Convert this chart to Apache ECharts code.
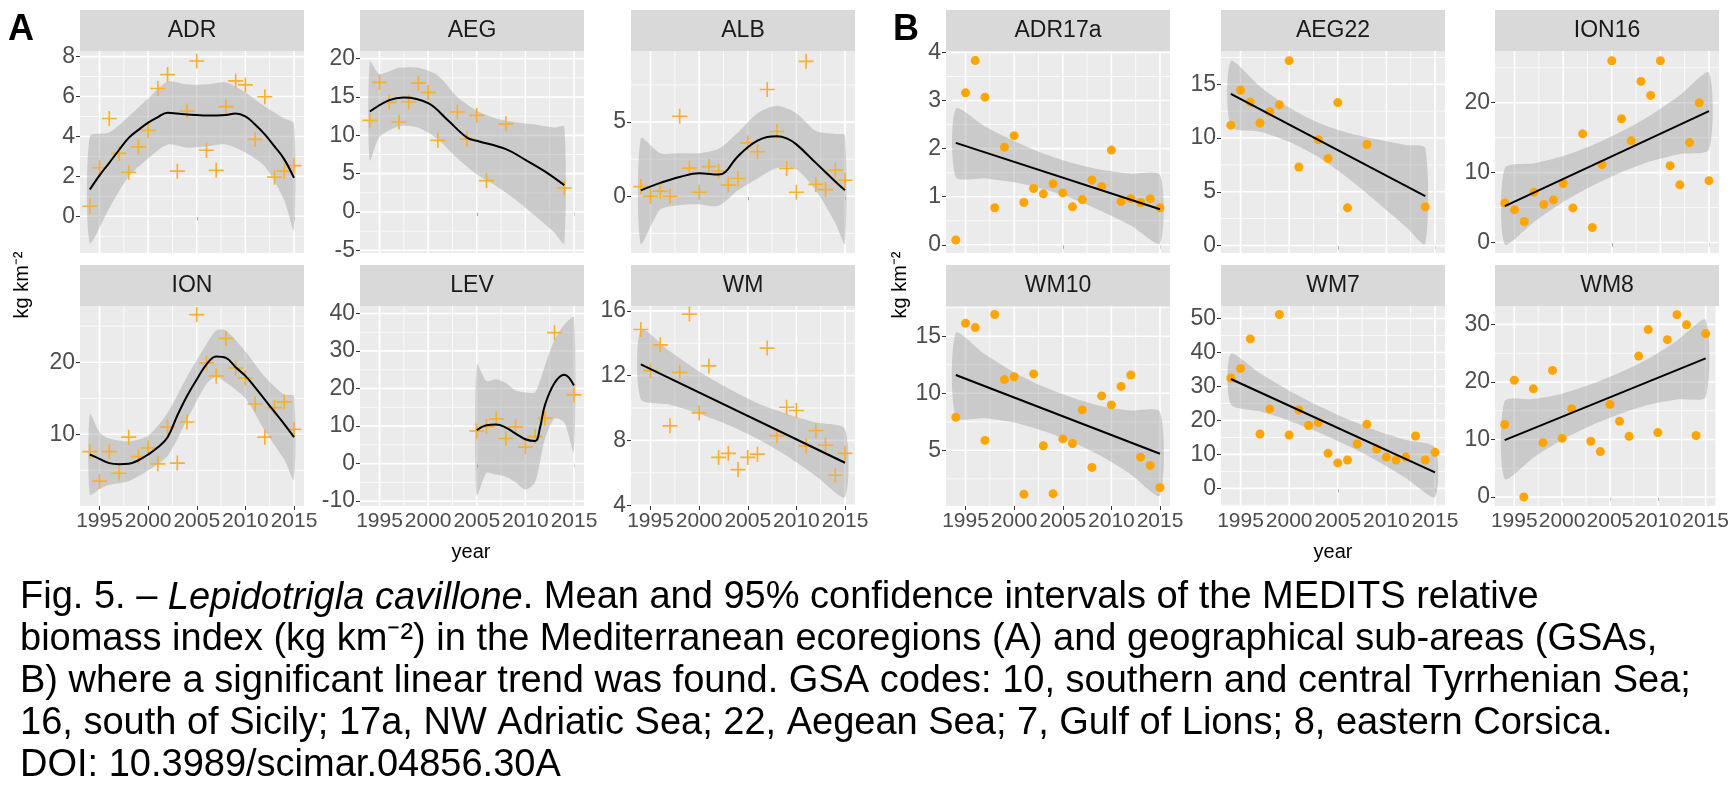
<!DOCTYPE html>
<html>
<head>
<meta charset="utf-8">
<title>Lepidotrigla cavillone biomass</title>
<script src="https://cdn.jsdelivr.net/npm/echarts@6/dist/echarts.min.js"></script>
<style>
body{margin:0;background:#fff;}
#main{width:1732px;height:806px;}
</style>
</head>
<body>
<div id="main"></div>
<script>
// ---- data ----
var allYears = [1994,1995,1996,1997,1998,1999,2000,2001,2002,2003,2004,2005,2006,2007,2008,2009,2010,2011,2012,2013,2014,2015];
var aegYears = [1994,1995,1996,1997,1998,1999,2000,2001,2003,2004,2005,2006,2008,2014];
var levYears = [2005,2006,2007,2008,2009,2010,2011,2012,2013,2015];
var wm8Years = [1994,1995,1996,1997,1998,1999,2000,2001,2003,2004,2005,2006,2007,2008,2009,2010,2011,2012,2013,2014,2015];
var xMajor = [1995,2000,2005,2010,2015];
var xMinor = [1997.5,2002.5,2007.5,2012.5];

// panel A : ecoregions (loess / linear fits)
var ADR_pts = [0.5,2.43,4.9,3.15,2.2,3.48,4.3,6.4,7.1,2.26,5.27,7.78,3.31,2.3,5.49,6.78,6.58,3.85,5.99,1.96,2.26,2.54];
var ADR_fit = [[1994,1.34],[1995,2.05],[1996,2.68],[1997,3.32],[1998,3.93],[1999,4.33],[2000,4.69],[2001,4.97],[2002,5.19],[2003,5.15],[2004,5.1],[2005,5.07],[2006,5.05],[2007,5.05],[2008,5.07],[2009,5.15],[2010,5.0],[2011,4.6],[2012,4.1],[2013,3.5],[2014,2.85],[2015,1.92]];
var ADR_band = [[1994,-1.34,4.0],[1996,0.4,4.2],[1998,2.0,5.0],[2000,2.9,5.9],[2002,3.6,6.75],[2004,3.45,6.6],[2006,3.5,6.6],[2008,3.6,6.7],[2010,3.2,6.2],[2012,2.5,5.5],[2014,0.8,4.9],[2015,-0.7,4.65]];

var AEG_pts = [11.96,16.9,14.3,11.74,14.35,16.8,15.6,9.35,13.04,9.5,12.6,4.1,11.5,3.13];
var AEG_fit = [[1994,13.1],[1996,14.6],[1997.5,14.95],[2000,14.2],[2002,12.0],[2004,9.7],[2005,9.3],[2008,8.2],[2010,6.8],[2012,5.3],[2014,3.5]];
var AEG_band = [[1994,6.7,19.6],[1995,9.8,18.0],[1997,11.2,18.8],[1999,11.0,18.8],[2001,9.5,17.8],[2003,7.0,15.0],[2005,4.9,13.2],[2007,3.4,12.2],[2009,1.6,11.7],[2011,-0.5,11.4],[2013,-2.7,11.0],[2014,-4.1,11.1]];

var ALB_pts = [0.65,0.0,0.34,0.0,5.4,1.9,0.27,2.0,1.7,0.75,1.2,3.6,3.0,7.2,4.37,1.87,0.27,9.1,0.8,0.45,1.76,1.08];
var ALB_fit = [[1994,0.4],[1996,0.9],[1998,1.3],[2000,1.55],[2002,1.46],[2004,2.7],[2005,3.3],[2006,3.75],[2007,4.0],[2008,4.05],[2009,3.9],[2010,3.5],[2012,2.25],[2014,1.0],[2015,0.4]];
var ALB_band = [[1994,-3.2,3.9],[1996,-0.9,2.9],[1998,-0.6,2.9],[2000,-0.55,2.9],[2002,-0.65,3.2],[2004,0.4,4.3],[2006,1.2,5.6],[2008,1.9,6.1],[2010,1.8,5.6],[2012,0.4,4.4],[2014,-1.8,4.2],[2015,-3.2,4.1]];

var ION_pts = [7.6,3.5,7.6,4.6,9.6,6.9,8.1,5.9,11.0,6.0,11.7,26.6,19.9,18.1,23.3,19.2,17.8,14.2,9.6,13.7,14.5,10.7];
var ION_fit = [[1994,7.2],[1995,6.6],[1996,6.0],[1997,5.85],[1998,5.9],[1999,6.4],[2000,7.2],[2001,8.2],[2002,9.6],[2003,12.6],[2004,15.3],[2005,17.6],[2006,19.7],[2007,20.8],[2008,20.6],[2009,19.3],[2010,18.1],[2011,16.5],[2012,14.8],[2013,13.1],[2014,11.4],[2015,9.6]];
var ION_band = [[1994,1.6,12.8],[1995,2.4,10.3],[1996,3.0,9.4],[1998,3.5,9.0],[2000,5.0,9.8],[2002,7.0,13.0],[2004,12.0,18.0],[2006,17.0,22.5],[2007,18.0,24.4],[2008,17.2,24.4],[2010,15.0,21.5],[2012,10.5,18.0],[2014,6.5,15.5],[2015,3.7,15.3]];

var LEV_pts = [8.7,9.9,11.9,6.7,9.8,4.4,7.2,12.1,34.9,18.3];
var LEV_fit = [[2005,8.9],[2006,10.2],[2007,10.4],[2008,9.6],[2009,8.0],[2010,6.5],[2011,6.0],[2011.5,9.5],[2012,15.5],[2013,21.5],[2014,23.7],[2015,20.8]];
var LEV_band = [[2005,-8.5,26.5],[2006,-2.5,22.0],[2007,-3.0,22.5],[2008,-3.5,21.5],[2009,-5.0,19.5],[2010,-7.0,19.0],[2011,-5.0,19.0],[2012,6.5,26.0],[2013,12.0,33.0],[2014,11.0,37.0],[2015,3.0,39.0]];

var WM_pts = [14.85,12.3,13.9,8.9,12.2,15.8,9.7,12.6,6.95,7.2,6.2,6.95,7.15,13.7,8.3,10.05,9.85,7.65,8.6,7.7,5.85,7.2];
var WM_fit = [[1994,12.7],[2015,6.62]];
var WM_band = [[1994,10.55,14.85],[1997,10.2,13.5],[2000,9.65,12.25],[2003,8.95,11.2],[2006,8.1,10.3],[2009,7.05,9.65],[2012,5.8,9.1],[2015,4.5,8.7]];

// panel B : GSAs (linear fits)
var ADR17a_pts = [0.1,3.16,3.83,3.07,0.77,2.03,2.27,0.88,1.17,1.06,1.27,1.08,0.79,0.94,1.35,1.21,1.97,0.9,0.96,0.88,0.96,0.77];
var ADR17a_fit = [[1994,2.12],[2015,0.74]];
var ADR17a_band = [[1994,1.41,2.83],[1997,1.38,2.46],[2000,1.3,2.16],[2003,1.16,1.9],[2006,0.96,1.7],[2009,0.7,1.56],[2012,0.4,1.48],[2015,0.03,1.45]];

var AEG22_pts = [11.2,14.45,13.35,11.4,12.45,13.1,17.2,7.3,9.85,8.1,13.3,3.5,9.4,3.6];
var AEG22_fit = [[1994,14.1],[2014,4.6]];
var AEG22_band = [[1994,11.05,17.15],[1997,10.58,14.8],[2000,9.65,12.85],[2003,8.23,11.43],[2006,6.3,10.5],[2009,4.08,9.88],[2012,1.75,9.35],[2014,0.15,9.05]];

var ION16_pts = [5.65,4.7,3.0,7.2,5.45,6.1,8.45,4.95,15.55,2.15,11.15,26.0,17.7,14.55,23.05,21.05,26.0,11.0,8.25,14.3,20.0,8.85];
var ION16_fit = [[1994,5.2],[2015,18.8]];
var ION16_band = [[1994,-0.25,10.65],[1997,2.94,11.34],[2000,5.79,12.39],[2003,8.13,13.93],[2006,10.07,15.87],[2009,11.61,18.21],[2012,12.66,21.06],[2015,13.3,24.3]];

var WM10_pts = [7.9,16.13,15.76,5.87,16.9,11.2,11.45,1.16,11.7,5.4,1.2,6.0,5.6,8.55,3.5,9.77,8.98,10.6,11.6,4.4,3.66,1.74];
var WM10_fit = [[1994,11.6],[2015,4.7]];
var WM10_band = [[1994,7.9,15.3],[1997,7.81,13.41],[2000,7.43,11.83],[2003,6.69,10.59],[2006,5.71,9.61],[2009,4.47,8.87],[2012,2.89,8.49],[2015,1.05,8.35]];

var WM7_pts = [32.5,35.3,44.0,16.0,23.4,51.2,15.7,23.1,18.5,19.4,10.3,7.5,8.35,13.05,18.9,11.6,9.2,8.35,9.2,15.4,8.35,10.6];
var WM7_fit = [[1994,32.2],[2015,4.7]];
var WM7_band = [[1994,24.8,39.6],[1997,22.67,33.87],[2000,19.94,28.74],[2003,16.51,24.31],[2006,12.59,20.39],[2009,8.16,16.96],[2012,3.03,14.23],[2015,-2.6,12.0]];

var WM8_pts = [12.6,20.3,0.0,18.8,9.45,22.0,10.2,15.35,9.7,7.9,16.1,13.15,10.55,24.5,29.1,11.2,27.35,31.7,29.95,10.7,28.4];
var WM8_fit = [[1994,9.9],[2015,24.1]];
var WM8_band = [[1994,3.15,16.65],[1997,6.83,17.03],[2000,9.96,17.96],[2003,12.39,19.59],[2006,14.41,21.61],[2009,16.04,24.04],[2012,16.97,27.17],[2015,17.4,30.8]];

// y axis ranges and breaks
var yRange = {
  ADR:[-1.84,8.28], AEG:[-5.35,21.0], ALB:[-3.83,9.8], ION:[0.05,27.8], LEV:[-11.3,42], WM:[3.95,16.3],
  ADR17a:[-0.17,4.03], AEG22:[-0.7,18.1], ION16:[-1.5,27.4], WM10:[0.12,17.65], WM7:[-5.2,53.7], WM8:[-1.56,33.2]
};
var yMajor = {
  ADR:[0,2,4,6,8], AEG:[-5,0,5,10,15,20], ALB:[0,5], ION:[10,20], LEV:[-10,0,10,20,30,40], WM:[4,8,12,16],
  ADR17a:[0,1,2,3,4], AEG22:[0,5,10,15], ION16:[0,10,20], WM10:[5,10,15], WM7:[0,10,20,30,40,50], WM8:[0,10,20,30]
};
var yMinor = {
  ADR:[-1,1,3,5,7], AEG:[-2.5,2.5,7.5,12.5,17.5], ALB:[-2.5,2.5,7.5], ION:[5,15,25], LEV:[-5,5,15,25,35], WM:[6,10,14],
  ADR17a:[0.5,1.5,2.5,3.5], AEG22:[2.5,7.5,12.5,17.5], ION16:[5,15,25], WM10:[2.5,7.5,12.5,17.5], WM7:[-5,5,15,25,35,45], WM8:[5,15,25]
};

function zip(xs, ys){ return xs.map(function(x,i){ return [x, ys[i]]; }); }

var panels = [
  {name:'ADR',  group:'A', years:allYears, pts:ADR_pts,  fit:ADR_fit,  band:ADR_band,  smooth:true},
  {name:'AEG',  group:'A', years:aegYears, pts:AEG_pts,  fit:AEG_fit,  band:AEG_band,  smooth:true},
  {name:'ALB',  group:'A', years:allYears, pts:ALB_pts,  fit:ALB_fit,  band:ALB_band,  smooth:true},
  {name:'ION',  group:'A', years:allYears, pts:ION_pts,  fit:ION_fit,  band:ION_band,  smooth:true},
  {name:'LEV',  group:'A', years:levYears, pts:LEV_pts,  fit:LEV_fit,  band:LEV_band,  smooth:true},
  {name:'WM',   group:'A', years:allYears, pts:WM_pts,   fit:WM_fit,   band:WM_band,   smooth:false},
  {name:'ADR17a',group:'B', years:allYears, pts:ADR17a_pts, fit:ADR17a_fit, band:ADR17a_band, smooth:false},
  {name:'AEG22', group:'B', years:aegYears, pts:AEG22_pts,  fit:AEG22_fit,  band:AEG22_band,  smooth:false},
  {name:'ION16', group:'B', years:allYears, pts:ION16_pts,  fit:ION16_fit,  band:ION16_band,  smooth:false},
  {name:'WM10',  group:'B', years:allYears, pts:WM10_pts,   fit:WM10_fit,   band:WM10_band,   smooth:false},
  {name:'WM7',   group:'B', years:allYears, pts:WM7_pts,    fit:WM7_fit,    band:WM7_band,    smooth:false},
  {name:'WM8',   group:'B', years:wm8Years, pts:WM8_pts,    fit:WM8_fit,    band:WM8_band,    smooth:false}
];

// ---- layout ----
var colX = {A:[80,360,631], B:[946,1221,1495]};
var panelW = 224;
var rowTop = [51, 306];     // plot top
var plotH = [202, 200];
var stripH = 41;
var xMin = 1992.99, xMax = 2016.03;

var crossPath = 'path://M4.45,0h1.1v4.45h4.45v1.1h-4.45v4.45h-1.1v-4.45h-4.45v-1.1h4.45z';

var grids = [], xAxes = [], yAxes = [], series = [], graphics = [];
var labelFont = 'Liberation Sans, Arial, sans-serif';

panels.forEach(function(p, k){
  var col = k % 3, row = Math.floor(k/3) % 2;
  var left = colX[p.group][col], top = rowTop[row];
  grids.push({left:left, top:top, width:panelW, height:plotH[row], show:true,
              backgroundColor:'#EBEBEB', borderWidth:0, containLabel:false});
  var bottomRow = row === 1;
  xAxes.push({type:'value', gridIndex:k, min:xMin, max:xMax,
    axisLine:{show:false}, splitLine:{show:false},
    axisTick:{show:true, length:4, lineStyle:{color:'#333'}, customValues:xMajor},
    axisLabel:{show:bottomRow, customValues:xMajor, color:'#4D4D4D', fontSize:21, fontFamily:labelFont, margin:5,
      formatter:function(v){ return String(v); }}
  });
  var yr = yRange[p.name];
  yAxes.push({type:'value', gridIndex:k, min:yr[0], max:yr[1],
    axisLine:{show:false}, splitLine:{show:false},
    axisTick:{show:true, length:4, lineStyle:{color:'#333'}, customValues:yMajor[p.name]},
    axisLabel:{show:true, customValues:yMajor[p.name], color:'#4D4D4D', fontSize:23, fontFamily:labelFont, margin:5,
      formatter:function(v){ return String(v); }}
  });

  // grid lines (white, major thicker)
  var gl = [];
  yMinor[p.name].forEach(function(v){ gl.push([v,0,1]); });
  xMinor.forEach(function(v){ gl.push([v,0,0]); });
  yMajor[p.name].forEach(function(v){ gl.push([v,1,1]); });
  xMajor.forEach(function(v){ gl.push([v,1,0]); });
  series.push({type:'custom', xAxisIndex:k, yAxisIndex:k, silent:true, data:gl, clip:true,
    renderItem:(function(yr){ return function(params, api){
      var cs = params.coordSys, v = api.value(0), major = api.value(1), dir = api.value(2);
      var lw = major ? 1.6 : 0.8, shape;
      if (dir === 1) { var py = api.coord([2000, v])[1]; shape = {x1:cs.x, y1:py, x2:cs.x+cs.width, y2:py}; }
      else { var px = api.coord([v, yr[0]])[0]; shape = {x1:px, y1:cs.y, x2:px, y2:cs.y+cs.height}; }
      return {type:'line', shape:shape, style:{stroke:'#FFFFFF', lineWidth:lw}};
    }; })(yr)
  });

  // points
  var isA = p.group === 'A';
  series.push({type:'scatter', xAxisIndex:k, yAxisIndex:k, data:zip(p.years, p.pts),
    symbol: isA ? crossPath : 'circle', symbolSize: isA ? 15 : 9,
    itemStyle:{color: isA ? '#F7B02F' : '#FFA500', opacity:1}, silent:true});

  // confidence ribbon
  series.push({type:'custom', xAxisIndex:k, yAxisIndex:k, silent:true, clip:true,
    data:p.band, encode:{x:0, y:[1,2]},
    renderItem:(function(band){ return function(params, api){
      if (params.dataIndex !== 0) return;
      var pts = [];
      band.forEach(function(b){ pts.push(api.coord([b[0], b[2]])); });
      for (var i = band.length-1; i >= 0; i--) pts.push(api.coord([band[i][0], band[i][1]]));
      return {type:'polygon', shape:{points:pts, smooth:0.25}, style:{fill:'rgba(153,153,153,0.4)'}};
    }; })(p.band)
  });

  // fitted line
  series.push({type:'line', xAxisIndex:k, yAxisIndex:k, data:p.fit, smooth:p.smooth ? 0.4 : false,
    showSymbol:false, lineStyle:{color:'#000', width:2}, silent:true});

  // facet strip
  var stripTop = top - stripH;
  graphics.push({type:'rect', shape:{x:left, y:stripTop, width:panelW, height:stripH}, style:{fill:'#D9D9D9'}});
  graphics.push({type:'text', x:left+panelW/2, y:stripTop+stripH/2,
    style:{text:p.name, fill:'#1A1A1A', font:'23px ' + labelFont, textAlign:'center', textVerticalAlign:'middle'}});
});

// panel letters, axis titles, caption
graphics.push({type:'text', x:8, y:12, style:{text:'A', fill:'#000', font:'bold 36px ' + labelFont}});
graphics.push({type:'text', x:893, y:12, style:{text:'B', fill:'#000', font:'bold 36px ' + labelFont}});
[[22,285],[900,285]].forEach(function(c){
  graphics.push({type:'text', x:c[0], y:c[1], rotation:Math.PI/2,
    style:{text:'kg km\u207B\u00B2', fill:'#000', font:'20px ' + labelFont, textAlign:'center', textVerticalAlign:'middle'}});
});
[[471,552],[1333,552]].forEach(function(c){
  graphics.push({type:'text', x:c[0], y:c[1],
    style:{text:'year', fill:'#000', font:'20px ' + labelFont, textAlign:'center', textVerticalAlign:'middle'}});
});

var captionLines = [
  'Fig. 5. \u2013 {it|Lepidotrigla cavillone}. Mean and 95% confidence intervals of the MEDITS relative',
  'biomass index (kg km\u207B\u00B2) in the Mediterranean ecoregions (A) and geographical sub-areas (GSAs,',
  'B) where a significant linear trend was found. GSA codes: 10, southern and central Tyrrhenian Sea;',
  '16, south of Sicily; 17a, NW Adriatic Sea; 22, Aegean Sea; 7, Gulf of Lions; 8, eastern Corsica.',
  'DOI: 10.3989/scimar.04856.30A'
];
var captionY = [598, 640, 682, 724, 766];
captionLines.forEach(function(t, i){
  graphics.push({type:'text', x:20, y:captionY[i],
    style:{text:t, fill:'#000', font:'38px ' + labelFont, textVerticalAlign:'middle',
      rich:{it:{fontStyle:'italic', fontSize:38, fontFamily:labelFont, fill:'#000'}}}});
});

var chart = echarts.init(document.getElementById('main'));
chart.setOption({
  animation:false,
  grid:grids, xAxis:xAxes, yAxis:yAxes, series:series,
  graphic:{elements:graphics}
});
</script>
</body>
</html>
